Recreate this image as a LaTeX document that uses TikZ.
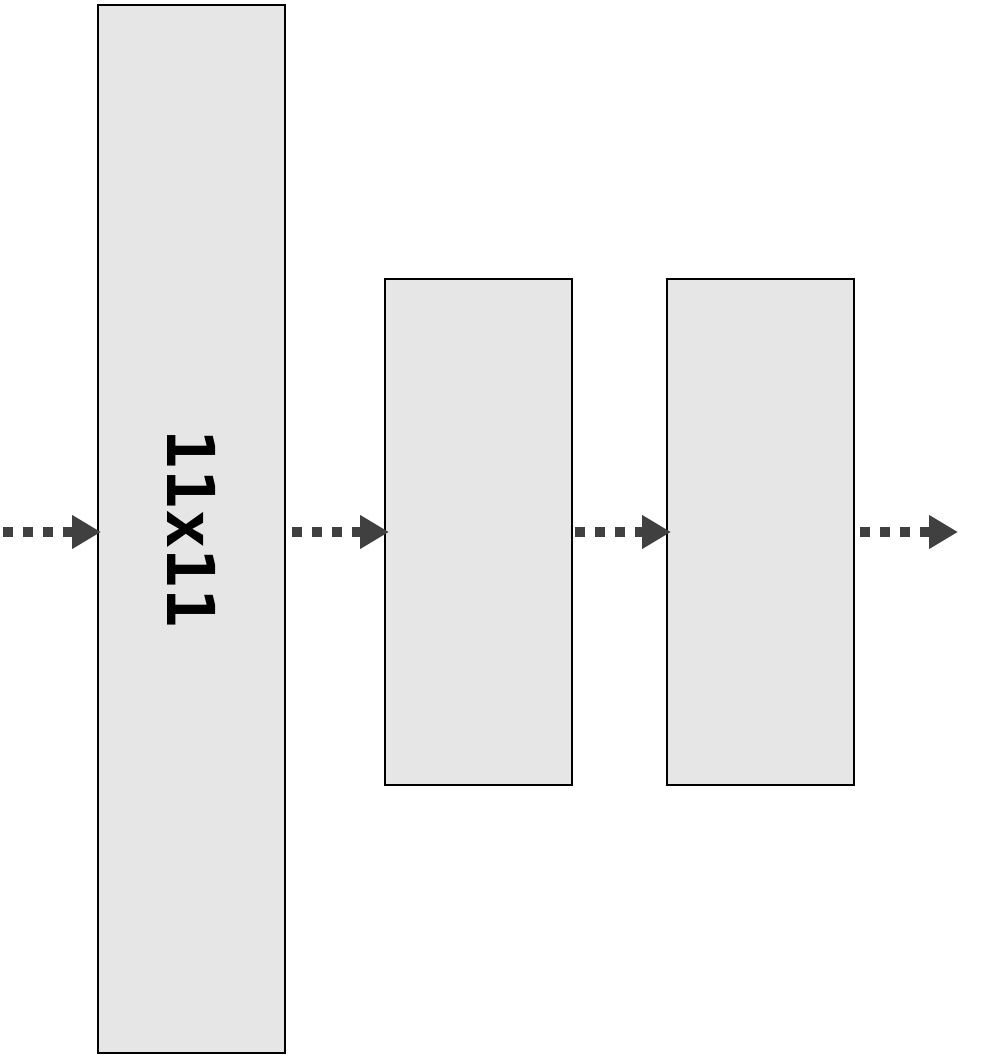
\documentclass[tikz,border=0pt]{standalone}
\usepackage{fontspec}
\setmonofont{DejaVu Sans Mono}
\usepackage{tikz}
\usetikzlibrary{arrows.meta,positioning}
\definecolor{layerfill}{RGB}{230,230,230}
\definecolor{flowgray}{RGB}{64,64,64}

\begin{document}
\begin{tikzpicture}[>=Triangle,
  layer/.style={draw=black,line width=1pt,fill=layerfill,inner sep=0pt,minimum width=93.5pt},
  flow/.style={flowgray,line width=5pt,dash pattern=on 5pt off 5pt,
    arrows={-{Triangle[length=14.5pt,width=16pt]}}}]
  \useasboundingbox (0,0) rectangle (497pt,529pt);
  % layers
  \node[layer,minimum height=524pt] (b1) at (95.75pt,264.5pt) {};
  \node[layer,minimum height=253pt,anchor=west] (b2) at (192pt,263pt) {};
  \node[layer,minimum height=253pt,right=46.5pt of b2] (b3) {};
  \node[rotate=-90,font=\ttfamily\bfseries\fontsize{33}{40}\selectfont] (k1) at (b1) {11x11};
  % flow
  \coordinate (in) at (1.5pt,263pt);
  \coordinate (out) at (479pt,263pt);
  \draw[flow,shorten >=-2pt] (in) -- (in -| b1.west);
  \draw[flow,shorten <=3pt,shorten >=-2.5pt] (b1.east |- b2.west) -- (b2.west);
  \draw[flow,shorten <=1pt,shorten >=-2.5pt] (b2.east) -- (b3.west);
  \draw[flow,shorten <=2.5pt] (b3.east) -- (out);
\end{tikzpicture}
\end{document}
